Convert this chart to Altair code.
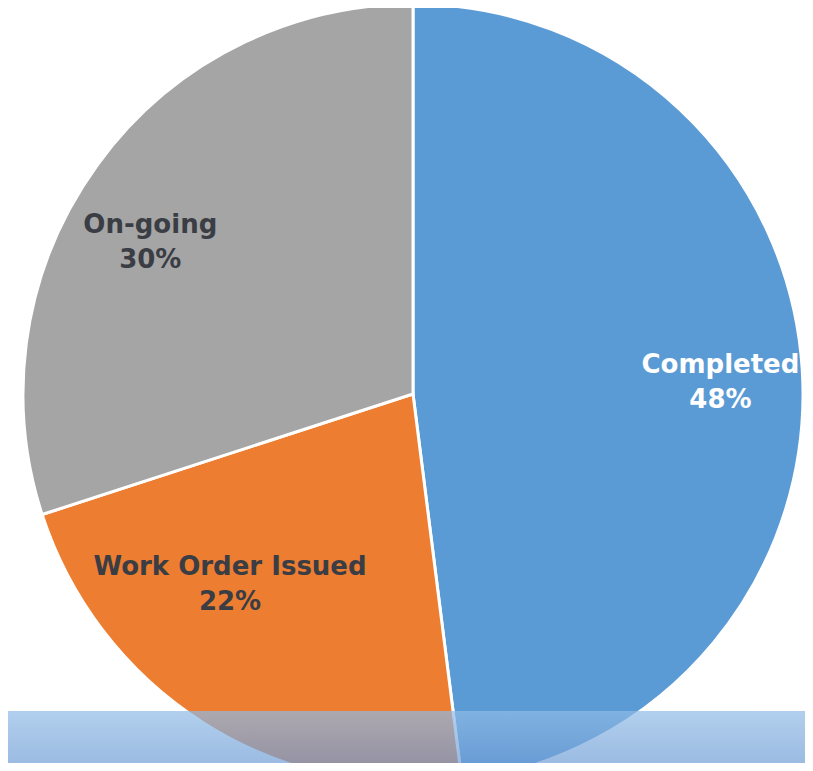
import altair as alt
import pandas as pd

categories = ["Completed", "Work Order Issued", "On-going"]
values = [48, 22, 30]
colors = ["#5b9bd5", "#ed7d31", "#a5a5a5"]
label_colors = ["#ffffff", "#3a3d44", "#3a3d44"]
slice_order = [0, 1, 2]

df = pd.DataFrame({"cat": categories, "value": values, "ord": slice_order})

W, H = 797, 755
CX, CY = 405, 386
R = 390

base = alt.Chart(df).encode(
    theta=alt.Theta("value:Q", stack=True),
    order=alt.Order("ord:Q"),
    x=alt.value(CX),
    y=alt.value(CY),
)

pie = base.mark_arc(radius=R, stroke="white", strokeWidth=3).encode(
    color=alt.Color("cat:N", scale=alt.Scale(domain=categories, range=colors), legend=None)
)

def label_layer(cat, color, radius, dx, dy):
    return base.transform_calculate(
        label=f"datum.cat == '{cat}' ? datum.cat + '\\n' + datum.value + '%' : ''"
    ).mark_text(
        radius=radius, dx=dx, dy=dy, lineBreak="\n", font="DejaVu Sans",
        fontWeight="bold", fontSize=26, lineHeight=35, color=color,
        align="center", baseline="middle",
    ).encode(text="label:N")

labels = [
    label_layer(categories[0], label_colors[0], 290, 18, -11),
    label_layer(categories[1], label_colors[1], 265, -41, -51),
    label_layer(categories[2], label_colors[2], 300, -20, 7),
]

band = alt.Chart(pd.DataFrame({"a": [0]})).mark_rect(
    opacity=0.7,
    color=alt.Gradient(
        gradient="linear",
        stops=[alt.GradientStop(color="#90bbe6", offset=0),
               alt.GradientStop(color="#6a98d2", offset=1)],
        x1=0, x2=0, y1=0, y2=1,
    ),
).encode(x=alt.value(-10), x2=alt.value(W + 10), y=alt.value(703), y2=alt.value(H + 10))

chart = alt.layer(pie, *labels, band).properties(
    width=W, height=H, autosize="none", padding=0
).configure_view(stroke=None)

chart.save("out.html", embed_options={"renderer": "svg", "actions": False})
